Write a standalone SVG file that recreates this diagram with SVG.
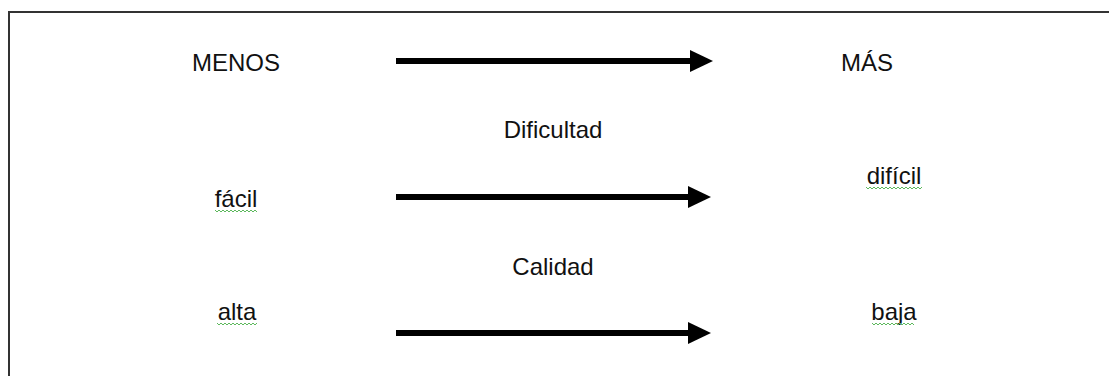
<svg xmlns="http://www.w3.org/2000/svg" width="1109" height="376" viewBox="0 0 1109 376">
<style>
.t{font-family:"Liberation Sans",Arial,sans-serif;font-size:24px;fill:#111;text-anchor:middle}
.sq{fill:none;stroke:#5cb85c;stroke-width:1}
.ar{stroke:#000;stroke-width:6}
</style>
<rect width="1109" height="376" fill="#fff"/>
<path d="M9,376 V12 H1109" fill="none" stroke="#333" stroke-width="2"/>
<g id="connectors">
<g id="arrow1"><line class="ar" x1="396" y1="61" x2="692" y2="61"/><polygon points="690,50 713,61 690,72"/></g>
<g id="arrow2"><line class="ar" x1="396" y1="197" x2="690" y2="197"/><polygon points="688,186 711,197 688,208"/></g>
<g id="arrow3"><line class="ar" x1="396" y1="333" x2="690" y2="333"/><polygon points="688,322 711,333 688,344"/></g>
</g>
<g id="menos"><text class="t" x="236" y="71">MENOS</text></g>
<g id="mas"><text class="t" x="867" y="71">MÁS</text></g>
<g id="dificultad"><text class="t" x="553" y="138">Dificultad</text></g>
<g id="facil"><text class="t" x="236" y="207">fácil</text><path class="sq" d="M215,210 l2,2 l2,-2 l2,2 l2,-2 l2,2 l2,-2 l2,2 l2,-2 l2,2 l2,-2 l2,2 l2,-2 l2,2 l2,-2 l2,2 l2,-2 l2,2 l2,-2 l2,2 l2,-2 l2,2"/></g>
<g id="dificil"><text class="t" x="894" y="184">difícil</text><path class="sq" d="M866,187 l2,2 l2,-2 l2,2 l2,-2 l2,2 l2,-2 l2,2 l2,-2 l2,2 l2,-2 l2,2 l2,-2 l2,2 l2,-2 l2,2 l2,-2 l2,2 l2,-2 l2,2 l2,-2 l2,2 l2,-2 l2,2 l2,-2 l2,2 l2,-2 l2,2 l2,-2"/></g>
<g id="calidad"><text class="t" x="553" y="275">Calidad</text></g>
<g id="alta"><text class="t" x="237" y="320">alta</text><path class="sq" d="M217,323 l2,2 l2,-2 l2,2 l2,-2 l2,2 l2,-2 l2,2 l2,-2 l2,2 l2,-2 l2,2 l2,-2 l2,2 l2,-2 l2,2 l2,-2 l2,2 l2,-2 l2,2 l2,-2"/></g>
<g id="baja"><text class="t" x="894" y="320">baja</text><path class="sq" d="M872,323 l2,2 l2,-2 l2,2 l2,-2 l2,2 l2,-2 l2,2 l2,-2 l2,2 l2,-2 l2,2 l2,-2 l2,2 l2,-2 l2,2 l2,-2 l2,2 l2,-2 l2,2 l2,-2 l2,2"/></g>
</svg>
